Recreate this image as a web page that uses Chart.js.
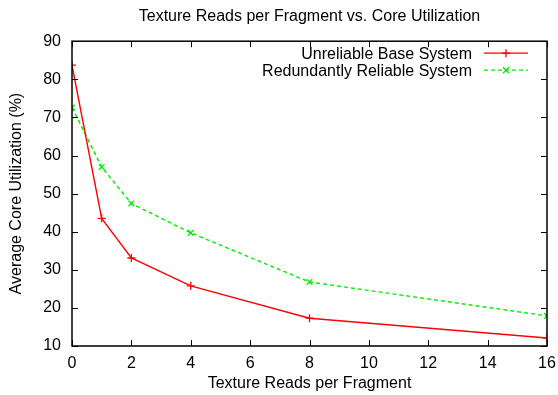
<!DOCTYPE html>
<html lang="en">
  <head>
    <meta charset="UTF-8" />
    <title>Texture Reads per Fragment vs. Core Utilization</title>
    <script src="https://cdn.jsdelivr.net/npm/chart.js"></script>
    <style>
      * {
        margin: 0;
        padding: 0;
        box-sizing: border-box;
      }
      body {
        background: #ffffff;
      }
      .chart-box {
        width: 558px;
        height: 395px;
      }
    </style>
  </head>
  <body>
    <div class="chart-box">
      <canvas id="utilChart"></canvas>
    </div>

    <script>
      // data
      var readsPerFragment = [0, 1, 2, 4, 8, 16];
      var baseSystem = [83.7, 43.5, 33.1, 25.8, 17.3, 12.1];
      var reliableSystem = [72.6, 57.0, 47.4, 39.7, 26.8, 17.9];
      var xTicks = [0, 2, 4, 6, 8, 10, 12, 14, 16];
      var yTicks = [10, 20, 30, 40, 50, 60, 70, 80, 90];

      var FONT = "'Liberation Sans', Arial, sans-serif";

      function toPoints(xs, ys) {
        return xs.map(function (x, i) {
          return { x: x, y: ys[i] };
        });
      }

      // gnuplot style frame, inward ticks and legend inside the plot
      var gnuFrame = {
        id: "gnuFrame",
        afterDraw: function (chart) {
          var ctx = chart.ctx;
          var a = chart.chartArea;
          var xs = chart.scales.x;
          var ys = chart.scales.y;
          var len = 6;
          ctx.save();
          ctx.strokeStyle = "#000";
          ctx.lineWidth = 1;
          ctx.beginPath();
          xTicks.forEach(function (v) {
            var px = Math.round(xs.getPixelForValue(v)) + 0.5;
            ctx.moveTo(px, a.bottom);
            ctx.lineTo(px, a.bottom - len);
            ctx.moveTo(px, a.top);
            ctx.lineTo(px, a.top + len);
          });
          yTicks.forEach(function (v) {
            var py = Math.round(ys.getPixelForValue(v)) + 0.5;
            ctx.moveTo(a.left, py);
            ctx.lineTo(a.left + len, py);
            ctx.moveTo(a.right, py);
            ctx.lineTo(a.right - len, py);
          });
          ctx.stroke();
          ctx.lineWidth = 1.5;
          ctx.strokeRect(a.left, a.top, a.right - a.left, a.bottom - a.top);

          // legend
          ctx.font = "16px " + FONT;
          ctx.textAlign = "right";
          ctx.textBaseline = "middle";
          chart.data.datasets.forEach(function (ds, i) {
            var y = a.top + 12 + i * 17;
            var textRight = a.right - 75;
            ctx.fillStyle = "#000";
            ctx.fillText(ds.label, textRight, y + 1);
            ctx.strokeStyle = ds.borderColor;
            ctx.lineWidth = 1.3;
            ctx.setLineDash(ds.borderDash || []);
            ctx.beginPath();
            ctx.moveTo(textRight + 12, y);
            ctx.lineTo(textRight + 56, y);
            ctx.stroke();
            ctx.setLineDash([]);
            var mx = textRight + 34;
            ctx.beginPath();
            if (ds.pointStyle === "cross") {
              ctx.moveTo(mx - 4, y);
              ctx.lineTo(mx + 4, y);
              ctx.moveTo(mx, y - 4);
              ctx.lineTo(mx, y + 4);
            } else {
              ctx.moveTo(mx - 3, y - 3);
              ctx.lineTo(mx + 3, y + 3);
              ctx.moveTo(mx - 3, y + 3);
              ctx.lineTo(mx + 3, y - 3);
            }
            ctx.stroke();
          });
          ctx.restore();
        },
      };

      new Chart(document.getElementById("utilChart"), {
        type: "line",
        data: {
          datasets: [
            {
              label: "Unreliable Base System",
              data: toPoints(readsPerFragment, baseSystem),
              borderColor: "#ff0000",
              backgroundColor: "#ff0000",
              borderWidth: 1.4,
              pointStyle: "cross",
              pointRadius: 4,
              pointBorderWidth: 1.3,
              fill: false,
              tension: 0,
            },
            {
              label: "Redundantly Reliable System",
              data: toPoints(readsPerFragment, reliableSystem),
              borderColor: "#00ee00",
              backgroundColor: "#00ee00",
              borderWidth: 1.4,
              borderDash: [4, 3],
              pointStyle: "crossRot",
              pointRadius: 4,
              pointBorderWidth: 1.3,
              fill: false,
              tension: 0,
            },
          ],
        },
        options: {
          responsive: true,
          maintainAspectRatio: false,
          animation: false,
          layout: { padding: { left: 0, right: 11, top: 0, bottom: 0 } },
          plugins: {
            legend: { display: false },
            tooltip: { enabled: false },
            title: {
              display: true,
              fullSize: false,
              text: "Texture Reads per Fragment vs. Core Utilization",
              color: "#000",
              font: { family: FONT, size: 16, weight: "normal" },
              padding: { top: 7, bottom: 15 },
            },
          },
          scales: {
            x: {
              type: "linear",
              min: 0,
              max: 16,
              afterFit: function (s) {
                s.height = 49;
                s.paddingLeft = 0;
                s.paddingRight = 0;
              },
              afterBuildTicks: function (s) {
                s.ticks = xTicks.map(function (v) {
                  return { value: v };
                });
              },
              grid: { display: false, drawTicks: false },
              border: { display: false },
              ticks: {
                color: "#000",
                padding: 8,
                maxRotation: 0,
                font: { family: FONT, size: 16 },
              },
              title: {
                display: true,
                text: "Texture Reads per Fragment",
                color: "#000",
                font: { family: FONT, size: 16 },
                padding: { top: 0, bottom: 2 },
              },
            },
            y: {
              min: 10,
              max: 90,
              afterFit: function (s) {
                s.width = 72;
                s.paddingTop = 0;
                s.paddingBottom = 0;
              },
              afterBuildTicks: function (s) {
                s.ticks = yTicks.map(function (v) {
                  return { value: v };
                });
              },
              grid: { display: false, drawTicks: false },
              border: { display: false },
              ticks: {
                color: "#000",
                padding: 11,
                font: { family: FONT, size: 16 },
              },
              title: {
                display: true,
                text: "Average Core Utilization (%)",
                color: "#000",
                font: { family: FONT, size: 16 },
                padding: { top: 7, bottom: 0 },
              },
            },
          },
        },
        plugins: [gnuFrame],
      });
    </script>
  </body>
</html>
